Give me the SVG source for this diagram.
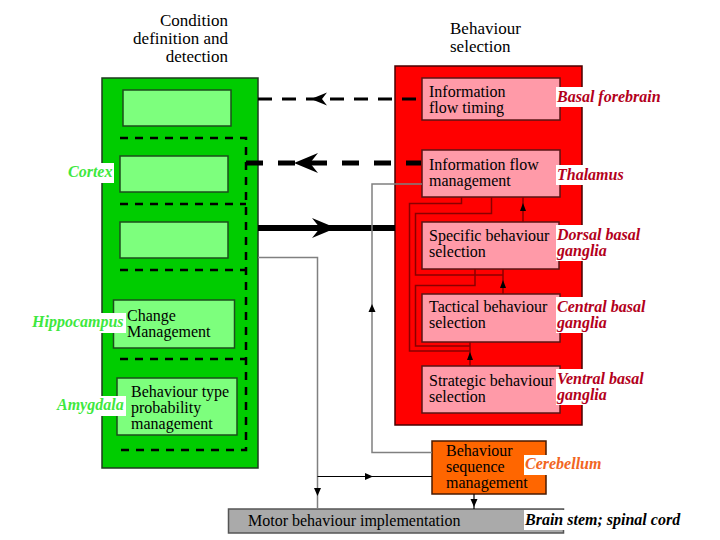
<svg xmlns="http://www.w3.org/2000/svg" width="720" height="540" viewBox="0 0 720 540" font-family="Liberation Serif, DejaVu Serif, serif">
<style>
text{font-family:'Liberation Serif','DejaVu Serif',serif;font-size:16px;fill:#000}
.hd{font-size:17px}
.lbl{font-weight:bold;font-style:italic;font-size:16px}
.gl{fill:#3ee83e}
.rl{fill:#b3001b}
.ol{fill:#f26522}
.bg{fill:#fff}
.lg{fill:#7dff7d;stroke:#1d4d1d;stroke-width:1.5}
.pk{fill:#ff9aa8;stroke:#5a1515;stroke-width:1.5}
.dr{fill:none;stroke:#8a0000;stroke-width:1.5}
.gr{fill:none;stroke:#808080;stroke-width:1.5}
.gd{fill:none;stroke:#000;stroke-width:2.5;stroke-dasharray:8 7}
.ah{fill:#000}
</style>
<rect width="720" height="540" fill="#fff"/>

<!-- headers -->
<g id="header-condition">
<text class="hd" x="228" y="26" text-anchor="end">Condition</text>
<text class="hd" x="228" y="44" text-anchor="end">definition and</text>
<text class="hd" x="228" y="62" text-anchor="end">detection</text>
</g>
<g id="header-behaviour">
<text class="hd" x="450" y="34">Behaviour</text>
<text class="hd" x="450" y="52">selection</text>
</g>

<!-- green container -->
<g id="condition-container">
<rect x="102" y="78" width="156" height="390" fill="#00cc00" stroke="#1f3a1f" stroke-width="1.5"/>
<g id="cortex-box-1"><rect class="lg" x="123" y="90" width="108" height="36"/></g>
<g id="cortex-box-2"><rect class="lg" x="120" y="156" width="108" height="36"/></g>
<g id="cortex-box-3"><rect class="lg" x="120" y="222" width="108" height="36"/></g>
<g id="change-management"><rect class="lg" x="113.5" y="300" width="121" height="48"/>
<text x="127" y="321">Change</text><text x="127" y="337">Management</text></g>
<g id="behaviour-type"><rect class="lg" x="117" y="378" width="120" height="57"/>
<text x="131" y="397">Behaviour type</text><text x="131" y="413">probability</text><text x="131" y="429">management</text></g>
<path class="gd" d="M120,138H246V450H120M120,204H246M120,270H246M120,359H246"/>
</g>

<!-- red container -->
<g id="selection-container">
<rect x="395" y="66" width="187" height="359" fill="#ff0000" stroke="#4a0000" stroke-width="1.5"/>
<g id="info-flow-timing"><rect class="pk" x="422" y="78" width="138" height="42"/>
<text x="429" y="97">Information</text><text x="429" y="113">flow timing</text></g>
<g id="info-flow-management"><rect class="pk" x="422" y="150" width="138" height="47"/>
<text x="429" y="170">Information flow</text><text x="429" y="186">management</text></g>
<g id="specific-selection"><rect class="pk" x="422" y="222" width="137" height="47"/>
<text x="429" y="241">Specific behaviour</text><text x="429" y="257">selection</text></g>
<g id="tactical-selection"><rect class="pk" x="422" y="294" width="138" height="48"/>
<text x="429" y="312">Tactical behaviour</text><text x="429" y="328">selection</text></g>
<g id="strategic-selection"><rect class="pk" x="422" y="366" width="138" height="47"/>
<text x="429" y="386">Strategic behaviour</text><text x="429" y="402">selection</text></g>
</g>

<!-- cerebellum -->
<g id="sequence-management">
<rect x="432" y="441" width="114" height="53" fill="#ff6600" stroke="#4a1a00" stroke-width="1.5"/>
<text x="446" y="456">Behaviour</text><text x="446" y="472">sequence</text><text x="446" y="488">management</text>
</g>

<!-- motor -->
<g id="motor-implementation">
<rect x="228.5" y="509" width="335" height="24" fill="#aaaaaa" stroke="#555" stroke-width="1.5"/>
<text x="248" y="526">Motor behaviour implementation</text>
</g>

<!-- connectors -->
<g id="connectors">
<line x1="258" y1="99" x2="417" y2="99" stroke="#000" stroke-width="3" stroke-dasharray="14 10"/>
<path class="ah" d="M311,99 L327,92.5 L322,99 L327,105.5 Z"/>
<line x1="246" y1="163" x2="421" y2="163" stroke="#000" stroke-width="5" stroke-dasharray="17 15"/>
<path class="ah" d="M294,163 L318,153 L310,163 L318,173 Z"/>
<line x1="258" y1="228" x2="395" y2="228" stroke="#000" stroke-width="6"/>
<path class="ah" d="M336,228 L312,218 L320,228 L312,238 Z"/>

<path class="dr" d="M461.5,197V203.5H409.5V351H470"/>
<path class="dr" d="M491.5,197V213.5H415.5V275H503"/>
<path class="dr" d="M475,269V285.5H415.5V346H470"/>
<path class="dr" d="M523,222V197M503,294V269M470,366V342"/>
<path class="ah" d="M523,203 L520,211 L526,211 Z M503,280 L500,288 L506,288 Z M470,352 L467,360 L473,360 Z"/>

<path class="gr" d="M258,257.5H317.5V509"/>
<path class="ah" d="M317.5,496 L314,488 L321,488 Z"/>
<path class="gr" d="M432,452.5H372V184H422"/>
<path class="ah" d="M372,304 L368.5,312 L375.5,312 Z"/>
<path fill="none" stroke="#000" stroke-width="1.2" d="M317.5,476.5H432M474,494V509"/>
<path class="ah" d="M373,476.5 L365,473 L365,480 Z M474,507 L470.5,499 L477.5,499 Z"/>
</g>

<!-- region labels -->
<g id="label-cortex"><rect class="bg" x="67" y="163" width="47" height="20"/><text class="lbl gl" x="68" y="177">Cortex</text></g>
<g id="label-hippocampus"><rect class="bg" x="31" y="313" width="95" height="20"/><text class="lbl gl" x="32" y="327">Hippocampus</text></g>
<g id="label-amygdala"><rect class="bg" x="56" y="396" width="70" height="20"/><text class="lbl gl" x="57" y="410">Amygdala</text></g>
<g id="label-basal-forebrain"><rect class="bg" x="556" y="87" width="108" height="20"/><text class="lbl rl" x="557" y="102">Basal forebrain</text></g>
<g id="label-thalamus"><rect class="bg" x="556" y="165" width="70" height="20"/><text class="lbl rl" x="557" y="180">Thalamus</text></g>
<g id="label-dorsal"><rect class="bg" x="556" y="225" width="88" height="36"/><text class="lbl rl" x="557" y="240">Dorsal basal</text><text class="lbl rl" x="557" y="256">ganglia</text></g>
<g id="label-central"><rect class="bg" x="556" y="297" width="94" height="36"/><text class="lbl rl" x="557" y="312">Central basal</text><text class="lbl rl" x="557" y="328">ganglia</text></g>
<g id="label-ventral"><rect class="bg" x="556" y="369" width="91" height="36"/><text class="lbl rl" x="557" y="384">Ventral basal</text><text class="lbl rl" x="557" y="400">ganglia</text></g>
<g id="label-cerebellum"><rect class="bg" x="524" y="455" width="79" height="20"/><text class="lbl ol" x="525" y="469">Cerebellum</text></g>
<g id="label-brainstem"><rect class="bg" x="524" y="510" width="158" height="20"/><text class="lbl" x="525" y="525">Brain stem; spinal cord</text></g>
</svg>
